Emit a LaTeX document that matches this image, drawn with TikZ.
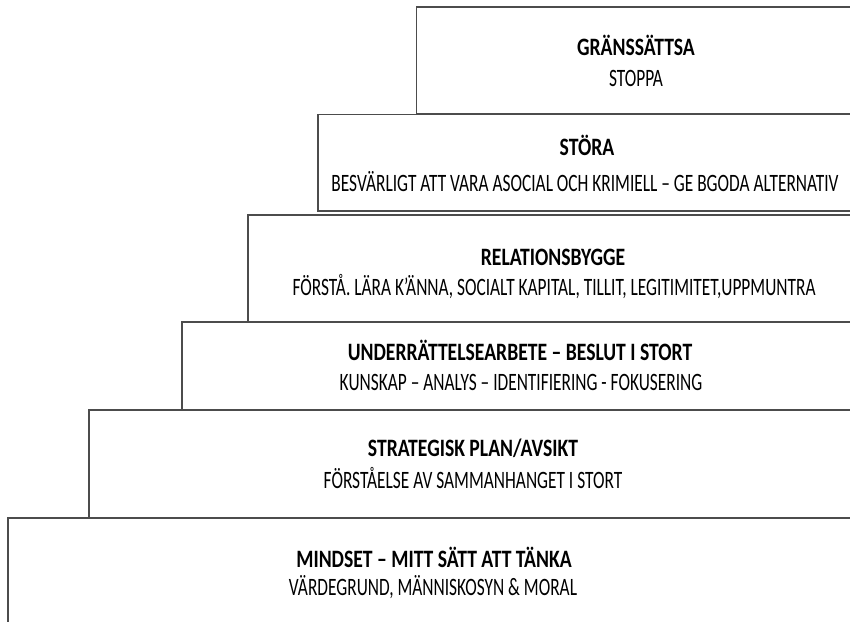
\documentclass[tikz,border=0pt]{standalone}
\usepackage{fontspec}
\setmainfont{Carlito}
\newcommand{\ttl}[1]{\scalebox{0.786}[1]{\fontsize{25bp}{29bp}\selectfont\bfseries #1}}
\newcommand{\sbt}[1]{\scalebox{0.694}[1]{\fontsize{25bp}{29bp}\selectfont #1}}
\tikzset{
  stepline/.style={draw=black!70, line width=1.3bp},
  txt/.style={inner sep=0pt, anchor=base}
}
\begin{document}
\begin{tikzpicture}[x=1bp,y=-1bp]
\useasboundingbox (0,0) rectangle (850,622);
\clip (0,0) rectangle (850,622);
% boxes
\draw[stepline] (416.5,7) rectangle (860,114);
\draw[stepline] (318,114.5) rectangle (860,211);
\draw[stepline] (248,215) rectangle (860,322);
\draw[stepline] (182,322) rectangle (860,410);
\draw[stepline] (89,410) rectangle (860,518);
\draw[stepline] (8,518) rectangle (860,660);
% texts (base at caps bottom)
\node[txt] (t1) at (636,56) {\ttl{GRÄNSSÄTTSA}};
\node[txt] (s1) at (636,87) {\sbt{STOPPA}};
\node[txt] (t2) at (587,156) {\ttl{STÖRA}};
\node[txt] (s2) at (585,191.5) {\sbt{BESVÄRLIGT ATT VARA ASOCIAL OCH KRIMIELL – GE BGODA ALTERNATIV}};
\node[txt] (t3) at (553,265) {\ttl{RELATIONSBYGGE}};
\node[txt] (s3) at (554,295) {\sbt{FÖRSTÅ. LÄRA K’ÄNNA, SOCIALT KAPITAL, TILLIT, LEGITIMITET,UPPMUNTRA}};
\node[txt] (t4) at (520,360) {\ttl{UNDERRÄTTELSEARBETE – BESLUT I STORT}};
\node[txt] (s4) at (521,390) {\sbt{KUNSKAP – ANALYS – IDENTIFIERING - FOKUSERING}};
\node[txt] (t5) at (473,456) {\ttl{STRATEGISK PLAN/AVSIKT}};
\node[txt] (s5) at (473,488) {\sbt{FÖRSTÅELSE AV SAMMANHANGET I STORT}};
\node[txt] (t6) at (434,567) {\ttl{MINDSET – MITT SÄTT ATT TÄNKA}};
\node[txt] (s6) at (433,595) {\sbt{VÄRDEGRUND, MÄNNISKOSYN \& MORAL}};
\end{tikzpicture}
\end{document}
